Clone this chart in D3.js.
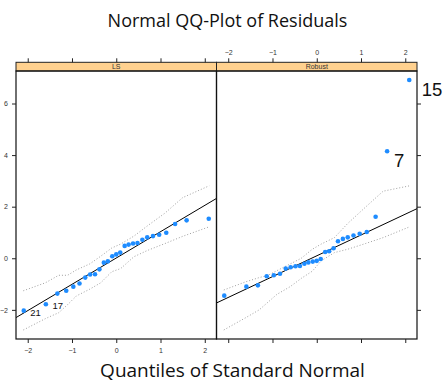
<!DOCTYPE html>
<html>
<head>
<meta charset="utf-8">
<script src="https://cdn.jsdelivr.net/npm/d3@7"></script>
<style>
  body { margin: 0; background: #fff; }
</style>
</head>
<body>
<div id="chart"></div>
<script>
// Data
const quantiles = [-2.09, -1.59, -1.33, -1.13, -0.97, -0.83, -0.70, -0.59, -0.48, -0.38, -0.28, -0.19, -0.09, 0,
  0.09, 0.19, 0.28, 0.38, 0.48, 0.59, 0.70, 0.83, 0.97, 1.13, 1.33, 1.59, 2.09];
const lsResid = [-2.03, -1.78, -1.37, -1.26, -1.10, -0.98, -0.75, -0.63, -0.62, -0.43, -0.17, -0.12, 0.08, 0.15,
  0.22, 0.48, 0.53, 0.57, 0.59, 0.72, 0.81, 0.86, 0.91, 0.99, 1.33, 1.47, 1.53];
const robustResid = [-1.45, -1.10, -1.05, -0.70, -0.66, -0.60, -0.40, -0.35, -0.31, -0.30, -0.21, -0.16, -0.13, -0.10,
  -0.03, 0.24, 0.27, 0.39, 0.66, 0.75, 0.81, 0.88, 0.95, 1.02, 1.61, 4.15, 6.91];

// simulation envelope
const envQ = [-2.1, -1.6, -1.3, -1.1, -0.9, -0.6, -0.35, -0.1, 0.1, 0.4, 0.7, 1.1, 1.5, 2.1];
const lsUpper = [-1.26, -0.95, -0.66, -0.66, -0.45, -0.22, 0.08, 0.40, 0.55, 0.86, 1.25, 1.75, 2.35, 2.81];
const lsLower = [-2.78, -2.34, -2.11, -1.80, -1.46, -1.20, -0.95, -0.52, -0.40, 0.06, 0.30, 0.57, 0.85, 1.22];
const robustUpper = [-1.23, -0.91, -0.75, -0.66, -0.48, -0.22, 0.0, 0.35, 0.55, 0.80, 1.35, 1.98, 2.60, 2.81];
const robustLower = [-2.78, -2.30, -2.00, -1.70, -1.40, -1.10, -0.78, -0.50, -0.10, 0.22, 0.35, 0.57, 0.80, 1.22];

// reference lines: [intercept, slope]
const lsLine = [0.01, 1.02];
const robustLine = [0.095, 0.807];

const panelNames = ["LS", "Robust"];
const xTicks = [-2, -1, 0, 1, 2];
const yTicks = [-2, 0, 2, 4, 6];

// point labels: [index, text]
const lsLabels = [[0, "21"], [1, "17"]];
const robustLabels = [[26, "15"], [25, "7"]];

const panels = [
  { name: panelNames[0], resid: lsResid, upper: lsUpper, lower: lsLower, line: lsLine, labels: lsLabels },
  { name: panelNames[1], resid: robustResid, upper: robustUpper, lower: robustLower, line: robustLine, labels: robustLabels }
];

const W = 443, H = 383;
const svg = d3.select("#chart").append("svg")
  .attr("width", W).attr("height", H)
  .style("font-family", "'Liberation Sans', Arial, sans-serif");

const padL = 16, panelW = 200.5, panelTop = 71, panelBottom = 339, stripH = 8.7;
const y = d3.scaleLinear().domain([-3.13, 7.26]).range([panelBottom, panelTop]);

panels.forEach((p, k) => {
  const x0 = padL + k * panelW;
  const x = d3.scaleLinear().domain([-2.265, 2.265]).range([x0, x0 + panelW]);
  const g = svg.append("g");

  // strip
  g.append("rect")
    .attr("x", x0).attr("y", panelTop - stripH)
    .attr("width", panelW).attr("height", stripH)
    .attr("fill", "#ffd18f").attr("stroke", "#222").attr("stroke-width", 1);
  g.append("text")
    .attr("x", x0 + panelW / 2).attr("y", panelTop - 1.8)
    .attr("text-anchor", "middle")
    .attr("font-size", 7).attr("fill", "#333")
    .text(p.name);

  // envelope
  const envLine = d3.line().x((d, i) => x(envQ[i])).y(d => y(d));
  [p.upper, p.lower].forEach(band => {
    g.append("path")
      .attr("d", envLine(band))
      .attr("fill", "none")
      .attr("stroke", "#888")
      .attr("stroke-width", 0.8)
      .attr("stroke-dasharray", "1,2");
  });

  // reference line
  const dom = x.domain();
  g.append("line")
    .attr("x1", x(dom[0])).attr("y1", y(p.line[0] + p.line[1] * dom[0]))
    .attr("x2", x(dom[1])).attr("y2", y(p.line[0] + p.line[1] * dom[1]))
    .attr("stroke", "#000").attr("stroke-width", 1);

  // points
  g.append("g").selectAll("circle")
    .data(p.resid)
    .join("circle")
    .attr("cx", (d, i) => x(quantiles[i]))
    .attr("cy", d => y(d))
    .attr("r", 2.3)
    .attr("fill", "#1e8cff");

  // point labels
  p.labels.forEach(([i, t]) => {
    const big = p.name === "Robust";
    g.append("text")
      .attr("x", x(quantiles[i]) + (big ? (t === "15" ? 12.5 : 7) : 6.5))
      .attr("y", y(p.resid[i]) + (big ? 15.5 : 5.3))
      .attr("font-size", big ? 18.5 : 9.5)
      .attr("fill", "#111")
      .text(t);
  });

  // panel border
  g.append("rect")
    .attr("x", x0).attr("y", panelTop)
    .attr("width", panelW).attr("height", panelBottom - panelTop)
    .attr("fill", "none").attr("stroke", "#111").attr("stroke-width", 1.2);

  // bottom axis: labels only on first panel
  const bAx = g.append("g").attr("transform", `translate(0,${panelBottom})`)
    .call(d3.axisBottom(x).tickValues(xTicks).tickSize(4).tickPadding(5)
      .tickFormat(k === 0 ? d3.format("d") : () => ""));
  // top axis above strip: labels only on second panel
  const tAx = g.append("g").attr("transform", `translate(0,${panelTop - stripH})`)
    .call(d3.axisTop(x).tickValues(xTicks).tickSize(4).tickPadding(3)
      .tickFormat(k === 1 ? d3.format("d") : () => ""));
  [bAx, tAx].forEach(a => {
    a.select(".domain").remove();
    a.selectAll("line").attr("stroke", "#222");
    a.selectAll("text").attr("font-size", 7).attr("fill", "#333")
      .attr("font-family", "'Liberation Sans', Arial, sans-serif");
  });

  if (k === 0) {
    const lAx = g.append("g").attr("transform", `translate(${x0},0)`)
      .call(d3.axisLeft(y).tickValues(yTicks).tickSize(4).tickPadding(4));
    lAx.select(".domain").remove();
    lAx.selectAll("line").attr("stroke", "#222");
    lAx.selectAll("text").attr("font-size", 7).attr("fill", "#333")
      .attr("font-family", "'Liberation Sans', Arial, sans-serif");
  } else {
    const rAx = g.append("g").attr("transform", `translate(${x0 + panelW},0)`)
      .call(d3.axisRight(y).tickValues(yTicks).tickSize(4).tickFormat(() => ""));
    rAx.select(".domain").remove();
    rAx.selectAll("line").attr("stroke", "#222");
  }
});

// titles
svg.append("text")
  .attr("x", 227.5).attr("y", 27)
  .attr("text-anchor", "middle")
  .attr("font-family", "'Open Sans', Lato, sans-serif")
  .attr("font-size", 18).attr("fill", "#111")
  .text("Normal QQ-Plot of Residuals");

svg.append("text")
  .attr("x", 232.5).attr("y", 377)
  .attr("text-anchor", "middle")
  .attr("font-family", "'Open Sans', Lato, sans-serif")
  .attr("font-size", 19).attr("fill", "#111")
  .text("Quantiles of Standard Normal");
</script>
</body>
</html>
